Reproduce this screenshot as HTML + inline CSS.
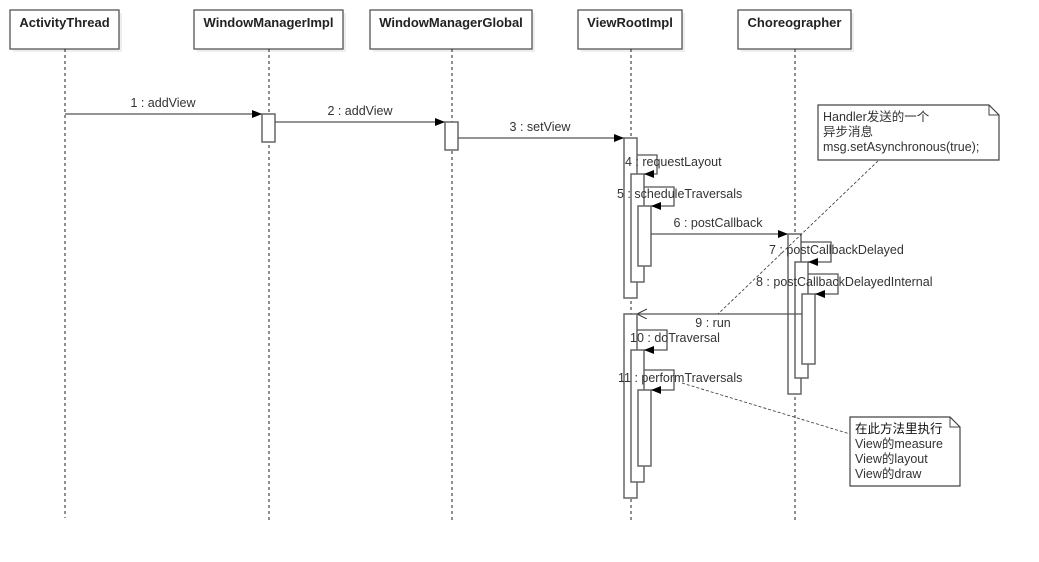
<!DOCTYPE html>
<html><head><meta charset="utf-8"><style>
html,body{margin:0;padding:0;background:#fff;}
svg{display:block;}
text{font-family:"Liberation Sans","Noto Sans CJK SC",sans-serif;font-size:12.5px;fill:#333;}
.h{font-weight:bold;fill:#222;font-size:13px;}
.box{fill:#fff;stroke:#555;stroke-width:1.3;}
.sh{fill:#eee;}
.ll{stroke:#222;stroke-width:1;stroke-dasharray:3,3;}
.act{fill:#fff;stroke:#666;stroke-width:1.5;}
.m{stroke:#555;stroke-width:1.3;fill:none;}
.dn{stroke:#333;stroke-width:0.8;stroke-dasharray:3,2;fill:none;}
</style></head><body>
<svg width="1039" height="562" viewBox="0 0 1039 562">
<defs>
<marker id="a" markerWidth="10" markerHeight="8" refX="10" refY="4" orient="auto" markerUnits="userSpaceOnUse"><path d="M0,0 L10,4 L0,8 z" fill="#000"/></marker>
<marker id="o" markerWidth="12" markerHeight="12" refX="10" refY="5" orient="auto" markerUnits="userSpaceOnUse"><path d="M0,0 L10,5 L0,10" fill="none" stroke="#333" stroke-width="1"/></marker>
</defs>
<rect class="sh" x="13" y="13" width="109" height="39"/>
<rect class="box" x="10" y="10" width="109" height="39"/>
<text class="h" x="64.5" y="27" text-anchor="middle">ActivityThread</text>
<rect class="sh" x="197" y="13" width="149" height="39"/>
<rect class="box" x="194" y="10" width="149" height="39"/>
<text class="h" x="268.5" y="27" text-anchor="middle">WindowManagerImpl</text>
<rect class="sh" x="373" y="13" width="162" height="39"/>
<rect class="box" x="370" y="10" width="162" height="39"/>
<text class="h" x="451" y="27" text-anchor="middle">WindowManagerGlobal</text>
<rect class="sh" x="581" y="13" width="104" height="39"/>
<rect class="box" x="578" y="10" width="104" height="39"/>
<text class="h" x="630" y="27" text-anchor="middle">ViewRootImpl</text>
<rect class="sh" x="741" y="13" width="113" height="39"/>
<rect class="box" x="738" y="10" width="113" height="39"/>
<text class="h" x="794.5" y="27" text-anchor="middle">Choreographer</text>
<line class="ll" x1="65" y1="49" x2="65" y2="518"/>
<line class="ll" x1="269" y1="49" x2="269" y2="520"/>
<line class="ll" x1="452" y1="49" x2="452" y2="520"/>
<line class="ll" x1="631" y1="49" x2="631" y2="520"/>
<line class="ll" x1="795" y1="49" x2="795" y2="520"/>
<line class="m" x1="65" y1="114" x2="262" y2="114" marker-end="url(#a)"/>
<text x="163" y="107" text-anchor="middle">1 : addView</text>
<rect class="act" x="262" y="114" width="13" height="28"/>
<line class="m" x1="275" y1="122" x2="445" y2="122" marker-end="url(#a)"/>
<text x="360" y="115" text-anchor="middle">2 : addView</text>
<rect class="act" x="445" y="122" width="13" height="28"/>
<line class="m" x1="458" y1="138" x2="624" y2="138" marker-end="url(#a)"/>
<text x="540" y="131" text-anchor="middle">3 : setView</text>
<rect class="act" x="624" y="138" width="13" height="160"/>
<rect class="act" x="631" y="174" width="13" height="108"/>
<rect class="act" x="638" y="206" width="13" height="60"/>
<polyline class="m" points="637,155 657,155 657,174 644,174" marker-end="url(#a)"/>
<text x="625" y="166">4 : requestLayout</text>
<polyline class="m" points="644,187 674,187 674,206 651,206" marker-end="url(#a)"/>
<text x="617" y="198">5 : scheduleTraversals</text>
<line class="m" x1="651" y1="234" x2="788" y2="234" marker-end="url(#a)"/>
<text x="718" y="227" text-anchor="middle">6 : postCallback</text>
<rect class="act" x="788" y="234" width="13" height="160"/>
<rect class="act" x="795" y="262" width="13" height="116"/>
<rect class="act" x="802" y="294" width="13" height="70"/>
<polyline class="m" points="801,242 831,242 831,262 808,262" marker-end="url(#a)"/>
<text x="769" y="254">7 : postCallbackDelayed</text>
<polyline class="m" points="808,274 838,274 838,294 815,294" marker-end="url(#a)"/>
<text x="756" y="286">8 : postCallbackDelayedInternal</text>
<line class="m" x1="802" y1="314" x2="637" y2="314" marker-end="url(#o)"/>
<text x="713" y="327" text-anchor="middle">9 : run</text>
<rect class="act" x="624" y="314" width="13" height="184"/>
<rect class="act" x="631" y="350" width="13" height="132"/>
<rect class="act" x="638" y="390" width="13" height="76"/>
<polyline class="m" points="637,330 667,330 667,350 644,350" marker-end="url(#a)"/>
<text x="630" y="342">10 : doTraversal</text>
<polyline class="m" points="644,370 674,370 674,390 651,390" marker-end="url(#a)"/>
<text x="618" y="382">11 : performTraversals</text>
<line class="dn" x1="878" y1="161" x2="718" y2="314"/>
<path d="M818,105 L989,105 L999,115 L999,160 L818,160 Z" fill="#fff" stroke="#444" stroke-width="1.2"/>
<path d="M989,105 L989,115 L999,115" fill="none" stroke="#444" stroke-width="1"/>
<text x="823" y="121">Handler发送的一个</text>
<text x="823" y="136">异步消息</text>
<text x="823" y="151">msg.setAsynchronous(true);</text>
<line class="dn" x1="682" y1="383" x2="850" y2="434"/>
<path d="M850,417 L950,417 L960,427 L960,486 L850,486 Z" fill="#fff" stroke="#444" stroke-width="1.2"/>
<path d="M950,417 L950,427 L960,427" fill="none" stroke="#444" stroke-width="1"/>
<text x="855" y="433" style="fill:#111">在此方法里执行</text>
<text x="855" y="448">View的measure</text>
<text x="855" y="463">View的layout</text>
<text x="855" y="478">View的draw</text>
</svg>
</body></html>
